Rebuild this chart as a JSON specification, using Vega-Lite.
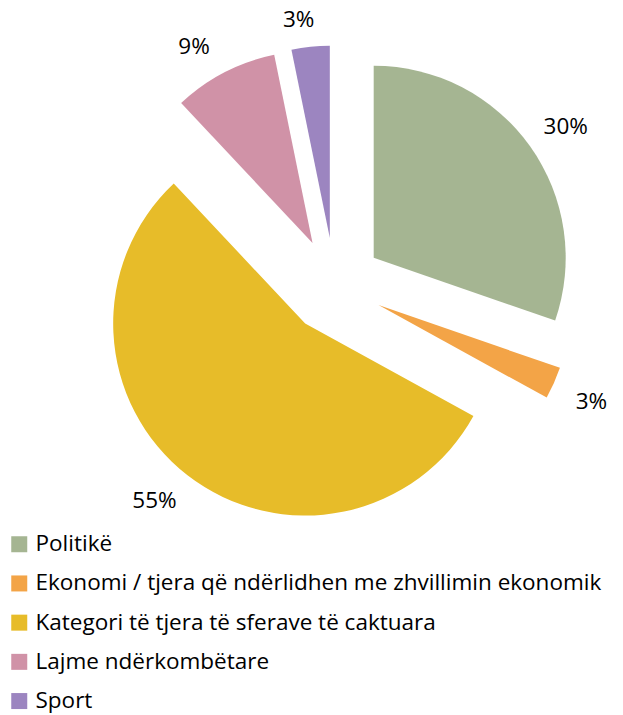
{
  "$schema": "https://vega.github.io/schema/vega-lite/v6.json",
  "width": 623,
  "height": 715,
  "padding": 0,
  "autosize": "none",
  "background": "white",
  "config": {"view": {"stroke": null}, "font": "Open Sans"},
  "data": {
    "values": [
      {"category": "Politikë", "share": 0.303, "order": 1},
      {"category": "Ekonomi / tjera që ndërlidhen me zhvillimin ekonomik", "share": 0.027, "order": 2},
      {"category": "Kategori të tjera të sferave të caktuara", "share": 0.55, "order": 3},
      {"category": "Lajme ndërkombëtare", "share": 0.088, "order": 4},
      {"category": "Sport", "share": 0.032, "order": 5}
    ]
  },
  "transform": [
    {"window": [{"op": "sum", "field": "share", "as": "end"}], "sort": [{"field": "order"}], "frame": [null, 0]},
    {"calculate": "datum.end - datum.share", "as": "start"},
    {"calculate": "(datum.start + datum.end) / 2", "as": "mid"},
    {"calculate": "48 * sin(2 * PI * datum.mid)", "as": "ex"},
    {"calculate": "-48 * cos(2 * PI * datum.mid)", "as": "ey"}
  ],
  "encoding": {
    "x": {"field": "ex", "type": "quantitative", "scale": {"domain": [-334.6, 288.4], "nice": false, "zero": false}, "axis": null},
    "y": {"field": "ey", "type": "quantitative", "scale": {"domain": [-285.6, 429.4], "reverse": true, "nice": false, "zero": false}, "axis": null}
  },
  "layer": [
    {
      "mark": {"type": "arc", "outerRadius": 192},
      "encoding": {
        "theta": {"field": "start", "type": "quantitative", "scale": {"domain": [0, 1]}, "stack": null},
        "theta2": {"field": "end"},
        "color": {
          "field": "category",
          "type": "nominal",
          "scale": {
            "domain": ["Politikë", "Ekonomi / tjera që ndërlidhen me zhvillimin ekonomik", "Kategori të tjera të sferave të caktuara", "Lajme ndërkombëtare", "Sport"],
            "range": ["#A5B592", "#F3A447", "#E7BC29", "#D092A7", "#9C85C0"]
          },
          "legend": {
            "orient": "none",
            "legendX": 8,
            "legendY": 533,
            "title": null,
            "symbolType": "square",
            "symbolSize": 256,
            "symbolStrokeWidth": 0,
            "symbolOpacity": 1,
            "labelFontSize": 22.5,
            "labelColor": "#000000",
            "labelLimit": 0,
            "labelOffset": 5,
            "rowPadding": 16.2,
            "padding": 0
          }
        }
      }
    },
    {
      "mark": {
        "type": "text",
        "radius": 210,
        "fontSize": 22.5,
        "color": "#000000",
        "align": "center",
        "baseline": "middle",
        "dx": {"expr": "sin(2 * PI * datum.mid) >= 0 ? 21 : (sin(2 * PI * datum.mid) < -0.3 ? -22 : -10)"},
        "dy": {"expr": "cos(2 * PI * datum.mid) >= 0 ? -9 : 12"}
      },
      "encoding": {
        "theta": {"field": "mid", "type": "quantitative", "scale": {"domain": [0, 1]}, "stack": null},
        "text": {"field": "share", "type": "quantitative", "format": ".0%"}
      }
    }
  ]
}
